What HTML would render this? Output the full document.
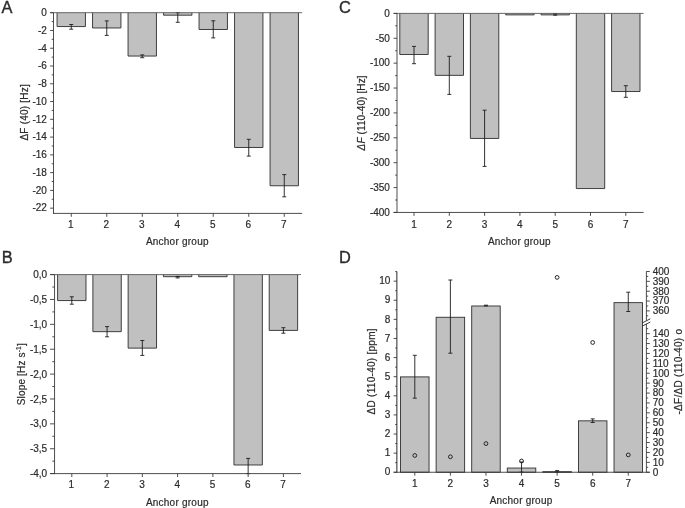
<!DOCTYPE html>
<html><head><meta charset="utf-8"><title>Figure</title>
<style>
html,body{margin:0;padding:0;background:#fff;}
body{width:685px;height:508px;overflow:hidden;}
svg{display:block;will-change:transform;}
text{font-family:"Liberation Sans",sans-serif;fill:#2b2b2b;stroke:#2b2b2b;stroke-width:0.2px;}
</style></head><body>
<svg width="685" height="508" viewBox="0 0 685 508">
<rect x="0" y="0" width="685" height="508" fill="#ffffff"/>
<rect x="57.05" y="12.70" width="28.40" height="13.86" fill="#c0c0c0"/>
<path d="M57.05 12.70V26.56H85.45V12.70" fill="none" stroke="#2e2e2e" stroke-width="0.9"/>
<rect x="92.55" y="12.70" width="28.40" height="15.28" fill="#c0c0c0"/>
<path d="M92.55 12.70V27.98H120.95V12.70" fill="none" stroke="#2e2e2e" stroke-width="0.9"/>
<rect x="128.05" y="12.70" width="28.40" height="43.36" fill="#c0c0c0"/>
<path d="M128.05 12.70V56.06H156.45V12.70" fill="none" stroke="#2e2e2e" stroke-width="0.9"/>
<rect x="163.55" y="12.70" width="28.40" height="2.49" fill="#c0c0c0"/>
<path d="M163.55 12.70V15.19H191.95V12.70" fill="none" stroke="#2e2e2e" stroke-width="0.9"/>
<rect x="199.05" y="12.70" width="28.40" height="16.79" fill="#c0c0c0"/>
<path d="M199.05 12.70V29.49H227.45V12.70" fill="none" stroke="#2e2e2e" stroke-width="0.9"/>
<rect x="234.55" y="12.70" width="28.40" height="134.79" fill="#c0c0c0"/>
<path d="M234.55 12.70V147.49H262.95V12.70" fill="none" stroke="#2e2e2e" stroke-width="0.9"/>
<rect x="270.05" y="12.70" width="28.40" height="173.08" fill="#c0c0c0"/>
<path d="M270.05 12.70V185.78H298.45V12.70" fill="none" stroke="#2e2e2e" stroke-width="0.9"/>
<line x1="71.25" y1="24.50" x2="71.25" y2="29.20" stroke="#1c1c1c" stroke-width="0.9"/>
<line x1="69.25" y1="24.50" x2="73.25" y2="24.50" stroke="#1c1c1c" stroke-width="0.9"/>
<line x1="69.25" y1="29.20" x2="73.25" y2="29.20" stroke="#1c1c1c" stroke-width="0.9"/>
<line x1="106.75" y1="20.90" x2="106.75" y2="35.40" stroke="#1c1c1c" stroke-width="0.9"/>
<line x1="104.75" y1="20.90" x2="108.75" y2="20.90" stroke="#1c1c1c" stroke-width="0.9"/>
<line x1="104.75" y1="35.40" x2="108.75" y2="35.40" stroke="#1c1c1c" stroke-width="0.9"/>
<line x1="142.25" y1="54.90" x2="142.25" y2="57.70" stroke="#1c1c1c" stroke-width="0.9"/>
<line x1="140.25" y1="54.90" x2="144.25" y2="54.90" stroke="#1c1c1c" stroke-width="0.9"/>
<line x1="140.25" y1="57.70" x2="144.25" y2="57.70" stroke="#1c1c1c" stroke-width="0.9"/>
<line x1="177.75" y1="12.70" x2="177.75" y2="22.30" stroke="#1c1c1c" stroke-width="0.9"/>
<line x1="175.75" y1="12.70" x2="179.75" y2="12.70" stroke="#1c1c1c" stroke-width="0.9"/>
<line x1="175.75" y1="22.30" x2="179.75" y2="22.30" stroke="#1c1c1c" stroke-width="0.9"/>
<line x1="213.25" y1="20.80" x2="213.25" y2="37.90" stroke="#1c1c1c" stroke-width="0.9"/>
<line x1="211.25" y1="20.80" x2="215.25" y2="20.80" stroke="#1c1c1c" stroke-width="0.9"/>
<line x1="211.25" y1="37.90" x2="215.25" y2="37.90" stroke="#1c1c1c" stroke-width="0.9"/>
<line x1="248.75" y1="139.30" x2="248.75" y2="156.10" stroke="#1c1c1c" stroke-width="0.9"/>
<line x1="246.75" y1="139.30" x2="250.75" y2="139.30" stroke="#1c1c1c" stroke-width="0.9"/>
<line x1="246.75" y1="156.10" x2="250.75" y2="156.10" stroke="#1c1c1c" stroke-width="0.9"/>
<line x1="284.25" y1="174.60" x2="284.25" y2="196.80" stroke="#1c1c1c" stroke-width="0.9"/>
<line x1="282.25" y1="174.60" x2="286.25" y2="174.60" stroke="#1c1c1c" stroke-width="0.9"/>
<line x1="282.25" y1="196.80" x2="286.25" y2="196.80" stroke="#1c1c1c" stroke-width="0.9"/>
<line x1="50.10" y1="12.70" x2="302.10" y2="12.70" stroke="#585858" stroke-width="0.9"/>
<line x1="53.50" y1="12.70" x2="53.50" y2="213.85" stroke="#3a3a3a" stroke-width="0.9"/>
<line x1="53.05" y1="213.40" x2="302.10" y2="213.40" stroke="#3a3a3a" stroke-width="0.9"/>
<line x1="50.10" y1="12.70" x2="53.50" y2="12.70" stroke="#3a3a3a" stroke-width="0.9"/>
<line x1="50.10" y1="30.47" x2="53.50" y2="30.47" stroke="#3a3a3a" stroke-width="0.9"/>
<line x1="50.10" y1="48.24" x2="53.50" y2="48.24" stroke="#3a3a3a" stroke-width="0.9"/>
<line x1="50.10" y1="66.01" x2="53.50" y2="66.01" stroke="#3a3a3a" stroke-width="0.9"/>
<line x1="50.10" y1="83.78" x2="53.50" y2="83.78" stroke="#3a3a3a" stroke-width="0.9"/>
<line x1="50.10" y1="101.55" x2="53.50" y2="101.55" stroke="#3a3a3a" stroke-width="0.9"/>
<line x1="50.10" y1="119.32" x2="53.50" y2="119.32" stroke="#3a3a3a" stroke-width="0.9"/>
<line x1="50.10" y1="137.09" x2="53.50" y2="137.09" stroke="#3a3a3a" stroke-width="0.9"/>
<line x1="50.10" y1="154.86" x2="53.50" y2="154.86" stroke="#3a3a3a" stroke-width="0.9"/>
<line x1="50.10" y1="172.63" x2="53.50" y2="172.63" stroke="#3a3a3a" stroke-width="0.9"/>
<line x1="50.10" y1="190.40" x2="53.50" y2="190.40" stroke="#3a3a3a" stroke-width="0.9"/>
<line x1="50.10" y1="208.17" x2="53.50" y2="208.17" stroke="#3a3a3a" stroke-width="0.9"/>
<line x1="51.70" y1="21.59" x2="53.50" y2="21.59" stroke="#3a3a3a" stroke-width="0.9"/>
<line x1="51.70" y1="39.35" x2="53.50" y2="39.35" stroke="#3a3a3a" stroke-width="0.9"/>
<line x1="51.70" y1="57.12" x2="53.50" y2="57.12" stroke="#3a3a3a" stroke-width="0.9"/>
<line x1="51.70" y1="74.89" x2="53.50" y2="74.89" stroke="#3a3a3a" stroke-width="0.9"/>
<line x1="51.70" y1="92.67" x2="53.50" y2="92.67" stroke="#3a3a3a" stroke-width="0.9"/>
<line x1="51.70" y1="110.44" x2="53.50" y2="110.44" stroke="#3a3a3a" stroke-width="0.9"/>
<line x1="51.70" y1="128.21" x2="53.50" y2="128.21" stroke="#3a3a3a" stroke-width="0.9"/>
<line x1="51.70" y1="145.97" x2="53.50" y2="145.97" stroke="#3a3a3a" stroke-width="0.9"/>
<line x1="51.70" y1="163.75" x2="53.50" y2="163.75" stroke="#3a3a3a" stroke-width="0.9"/>
<line x1="51.70" y1="181.51" x2="53.50" y2="181.51" stroke="#3a3a3a" stroke-width="0.9"/>
<line x1="51.70" y1="199.28" x2="53.50" y2="199.28" stroke="#3a3a3a" stroke-width="0.9"/>
<text x="46.90" y="16.00" font-size="10" text-anchor="end">0</text>
<text x="46.90" y="33.77" font-size="10" text-anchor="end">-2</text>
<text x="46.90" y="51.54" font-size="10" text-anchor="end">-4</text>
<text x="46.90" y="69.31" font-size="10" text-anchor="end">-6</text>
<text x="46.90" y="87.08" font-size="10" text-anchor="end">-8</text>
<text x="46.90" y="104.85" font-size="10" text-anchor="end">-10</text>
<text x="46.90" y="122.62" font-size="10" text-anchor="end">-12</text>
<text x="46.90" y="140.39" font-size="10" text-anchor="end">-14</text>
<text x="46.90" y="158.16" font-size="10" text-anchor="end">-16</text>
<text x="46.90" y="175.93" font-size="10" text-anchor="end">-18</text>
<text x="46.90" y="193.70" font-size="10" text-anchor="end">-20</text>
<text x="46.90" y="211.47" font-size="10" text-anchor="end">-22</text>
<line x1="71.25" y1="213.40" x2="71.25" y2="216.80" stroke="#3a3a3a" stroke-width="0.9"/>
<text x="70.85" y="228.15" font-size="10" text-anchor="middle">1</text>
<line x1="106.75" y1="213.40" x2="106.75" y2="216.80" stroke="#3a3a3a" stroke-width="0.9"/>
<text x="106.35" y="228.15" font-size="10" text-anchor="middle">2</text>
<line x1="142.25" y1="213.40" x2="142.25" y2="216.80" stroke="#3a3a3a" stroke-width="0.9"/>
<text x="141.85" y="228.15" font-size="10" text-anchor="middle">3</text>
<line x1="177.75" y1="213.40" x2="177.75" y2="216.80" stroke="#3a3a3a" stroke-width="0.9"/>
<text x="177.35" y="228.15" font-size="10" text-anchor="middle">4</text>
<line x1="213.25" y1="213.40" x2="213.25" y2="216.80" stroke="#3a3a3a" stroke-width="0.9"/>
<text x="212.85" y="228.15" font-size="10" text-anchor="middle">5</text>
<line x1="248.75" y1="213.40" x2="248.75" y2="216.80" stroke="#3a3a3a" stroke-width="0.9"/>
<text x="248.35" y="228.15" font-size="10" text-anchor="middle">6</text>
<line x1="284.25" y1="213.40" x2="284.25" y2="216.80" stroke="#3a3a3a" stroke-width="0.9"/>
<text x="283.85" y="228.15" font-size="10" text-anchor="middle">7</text>
<text x="177.20" y="245.20" font-size="10" text-anchor="middle" textLength="62.6">Anchor group</text>
<text x="1.50" y="13.20" font-size="16.4" text-anchor="start" style="stroke-width:0.35px">A</text>
<text x="27.80" y="112.40" font-size="10" text-anchor="middle" transform="rotate(-90 27.80 112.40)" textLength="56.3">&#916;F (40) [Hz]</text>
<rect x="399.80" y="13.40" width="28.40" height="41.10" fill="#c0c0c0"/>
<path d="M399.80 13.40V54.50H428.20V13.40" fill="none" stroke="#2e2e2e" stroke-width="0.9"/>
<rect x="435.10" y="13.40" width="28.40" height="61.95" fill="#c0c0c0"/>
<path d="M435.10 13.40V75.35H463.50V13.40" fill="none" stroke="#2e2e2e" stroke-width="0.9"/>
<rect x="470.40" y="13.40" width="28.40" height="125.05" fill="#c0c0c0"/>
<path d="M470.40 13.40V138.45H498.80V13.40" fill="none" stroke="#2e2e2e" stroke-width="0.9"/>
<rect x="505.70" y="13.40" width="28.40" height="1.49" fill="#c0c0c0"/>
<path d="M505.70 13.40V14.89H534.10V13.40" fill="none" stroke="#2e2e2e" stroke-width="0.9"/>
<rect x="541.00" y="13.40" width="28.40" height="1.49" fill="#c0c0c0"/>
<path d="M541.00 13.40V14.89H569.40V13.40" fill="none" stroke="#2e2e2e" stroke-width="0.9"/>
<rect x="576.30" y="13.40" width="28.40" height="175.16" fill="#c0c0c0"/>
<path d="M576.30 13.40V188.56H604.70V13.40" fill="none" stroke="#2e2e2e" stroke-width="0.9"/>
<rect x="611.60" y="13.40" width="28.40" height="78.13" fill="#c0c0c0"/>
<path d="M611.60 13.40V91.53H640.00V13.40" fill="none" stroke="#2e2e2e" stroke-width="0.9"/>
<line x1="414.00" y1="46.40" x2="414.00" y2="63.70" stroke="#1c1c1c" stroke-width="0.9"/>
<line x1="412.00" y1="46.40" x2="416.00" y2="46.40" stroke="#1c1c1c" stroke-width="0.9"/>
<line x1="412.00" y1="63.70" x2="416.00" y2="63.70" stroke="#1c1c1c" stroke-width="0.9"/>
<line x1="449.30" y1="56.30" x2="449.30" y2="94.40" stroke="#1c1c1c" stroke-width="0.9"/>
<line x1="447.30" y1="56.30" x2="451.30" y2="56.30" stroke="#1c1c1c" stroke-width="0.9"/>
<line x1="447.30" y1="94.40" x2="451.30" y2="94.40" stroke="#1c1c1c" stroke-width="0.9"/>
<line x1="484.60" y1="110.20" x2="484.60" y2="166.40" stroke="#1c1c1c" stroke-width="0.9"/>
<line x1="482.60" y1="110.20" x2="486.60" y2="110.20" stroke="#1c1c1c" stroke-width="0.9"/>
<line x1="482.60" y1="166.40" x2="486.60" y2="166.40" stroke="#1c1c1c" stroke-width="0.9"/>
<line x1="555.20" y1="13.60" x2="555.20" y2="15.20" stroke="#1c1c1c" stroke-width="0.9"/>
<line x1="553.20" y1="13.60" x2="557.20" y2="13.60" stroke="#1c1c1c" stroke-width="0.9"/>
<line x1="553.20" y1="15.20" x2="557.20" y2="15.20" stroke="#1c1c1c" stroke-width="0.9"/>
<line x1="625.80" y1="85.70" x2="625.80" y2="97.30" stroke="#1c1c1c" stroke-width="0.9"/>
<line x1="623.80" y1="85.70" x2="627.80" y2="85.70" stroke="#1c1c1c" stroke-width="0.9"/>
<line x1="623.80" y1="97.30" x2="627.80" y2="97.30" stroke="#1c1c1c" stroke-width="0.9"/>
<line x1="393.60" y1="13.40" x2="643.60" y2="13.40" stroke="#585858" stroke-width="0.9"/>
<line x1="397.00" y1="13.40" x2="397.00" y2="212.90" stroke="#3a3a3a" stroke-width="0.9"/>
<line x1="393.60" y1="212.45" x2="643.60" y2="212.45" stroke="#3a3a3a" stroke-width="0.9"/>
<line x1="393.60" y1="13.40" x2="397.00" y2="13.40" stroke="#3a3a3a" stroke-width="0.9"/>
<line x1="393.60" y1="38.28" x2="397.00" y2="38.28" stroke="#3a3a3a" stroke-width="0.9"/>
<line x1="393.60" y1="63.16" x2="397.00" y2="63.16" stroke="#3a3a3a" stroke-width="0.9"/>
<line x1="393.60" y1="88.04" x2="397.00" y2="88.04" stroke="#3a3a3a" stroke-width="0.9"/>
<line x1="393.60" y1="112.92" x2="397.00" y2="112.92" stroke="#3a3a3a" stroke-width="0.9"/>
<line x1="393.60" y1="137.81" x2="397.00" y2="137.81" stroke="#3a3a3a" stroke-width="0.9"/>
<line x1="393.60" y1="162.69" x2="397.00" y2="162.69" stroke="#3a3a3a" stroke-width="0.9"/>
<line x1="393.60" y1="187.57" x2="397.00" y2="187.57" stroke="#3a3a3a" stroke-width="0.9"/>
<line x1="393.60" y1="212.45" x2="397.00" y2="212.45" stroke="#3a3a3a" stroke-width="0.9"/>
<line x1="395.20" y1="25.84" x2="397.00" y2="25.84" stroke="#3a3a3a" stroke-width="0.9"/>
<line x1="395.20" y1="50.72" x2="397.00" y2="50.72" stroke="#3a3a3a" stroke-width="0.9"/>
<line x1="395.20" y1="75.60" x2="397.00" y2="75.60" stroke="#3a3a3a" stroke-width="0.9"/>
<line x1="395.20" y1="100.48" x2="397.00" y2="100.48" stroke="#3a3a3a" stroke-width="0.9"/>
<line x1="395.20" y1="125.37" x2="397.00" y2="125.37" stroke="#3a3a3a" stroke-width="0.9"/>
<line x1="395.20" y1="150.25" x2="397.00" y2="150.25" stroke="#3a3a3a" stroke-width="0.9"/>
<line x1="395.20" y1="175.13" x2="397.00" y2="175.13" stroke="#3a3a3a" stroke-width="0.9"/>
<line x1="395.20" y1="200.01" x2="397.00" y2="200.01" stroke="#3a3a3a" stroke-width="0.9"/>
<text x="389.90" y="16.70" font-size="10" text-anchor="end">0</text>
<text x="389.90" y="41.58" font-size="10" text-anchor="end">-50</text>
<text x="389.90" y="66.46" font-size="10" text-anchor="end">-100</text>
<text x="389.90" y="91.34" font-size="10" text-anchor="end">-150</text>
<text x="389.90" y="116.22" font-size="10" text-anchor="end">-200</text>
<text x="389.90" y="141.11" font-size="10" text-anchor="end">-250</text>
<text x="389.90" y="165.99" font-size="10" text-anchor="end">-300</text>
<text x="389.90" y="190.87" font-size="10" text-anchor="end">-350</text>
<text x="389.90" y="215.75" font-size="10" text-anchor="end">-400</text>
<line x1="414.00" y1="212.45" x2="414.00" y2="215.85" stroke="#3a3a3a" stroke-width="0.9"/>
<text x="414.00" y="227.70" font-size="10" text-anchor="middle">1</text>
<line x1="449.30" y1="212.45" x2="449.30" y2="215.85" stroke="#3a3a3a" stroke-width="0.9"/>
<text x="449.30" y="227.70" font-size="10" text-anchor="middle">2</text>
<line x1="484.60" y1="212.45" x2="484.60" y2="215.85" stroke="#3a3a3a" stroke-width="0.9"/>
<text x="484.60" y="227.70" font-size="10" text-anchor="middle">3</text>
<line x1="519.90" y1="212.45" x2="519.90" y2="215.85" stroke="#3a3a3a" stroke-width="0.9"/>
<text x="519.90" y="227.70" font-size="10" text-anchor="middle">4</text>
<line x1="555.20" y1="212.45" x2="555.20" y2="215.85" stroke="#3a3a3a" stroke-width="0.9"/>
<text x="555.20" y="227.70" font-size="10" text-anchor="middle">5</text>
<line x1="590.50" y1="212.45" x2="590.50" y2="215.85" stroke="#3a3a3a" stroke-width="0.9"/>
<text x="590.50" y="227.70" font-size="10" text-anchor="middle">6</text>
<line x1="625.80" y1="212.45" x2="625.80" y2="215.85" stroke="#3a3a3a" stroke-width="0.9"/>
<text x="625.80" y="227.70" font-size="10" text-anchor="middle">7</text>
<text x="519.20" y="244.60" font-size="10" text-anchor="middle" textLength="62.6">Anchor group</text>
<text x="338.95" y="13.00" font-size="16.4" text-anchor="start" style="stroke-width:0.35px">C</text>
<text x="365.20" y="112.90" font-size="10" text-anchor="middle" transform="rotate(-90 365.20 112.90)" textLength="75"><tspan font-style="italic">&#916;F</tspan> (110-40) [Hz]</text>
<rect x="57.60" y="274.60" width="28.40" height="25.97" fill="#c0c0c0"/>
<path d="M57.60 274.60V300.57H86.00V274.60" fill="none" stroke="#2e2e2e" stroke-width="0.9"/>
<rect x="92.87" y="274.60" width="28.40" height="57.06" fill="#c0c0c0"/>
<path d="M92.87 274.60V331.66H121.27V274.60" fill="none" stroke="#2e2e2e" stroke-width="0.9"/>
<rect x="128.14" y="274.60" width="28.40" height="73.53" fill="#c0c0c0"/>
<path d="M128.14 274.60V348.13H156.54V274.60" fill="none" stroke="#2e2e2e" stroke-width="0.9"/>
<rect x="163.41" y="274.60" width="28.40" height="2.09" fill="#c0c0c0"/>
<path d="M163.41 274.60V276.69H191.81V274.60" fill="none" stroke="#2e2e2e" stroke-width="0.9"/>
<rect x="198.68" y="274.60" width="28.40" height="2.09" fill="#c0c0c0"/>
<path d="M198.68 274.60V276.69H227.08V274.60" fill="none" stroke="#2e2e2e" stroke-width="0.9"/>
<rect x="233.95" y="274.60" width="28.40" height="190.39" fill="#c0c0c0"/>
<path d="M233.95 274.60V464.99H262.35V274.60" fill="none" stroke="#2e2e2e" stroke-width="0.9"/>
<rect x="269.22" y="274.60" width="28.40" height="55.82" fill="#c0c0c0"/>
<path d="M269.22 274.60V330.42H297.62V274.60" fill="none" stroke="#2e2e2e" stroke-width="0.9"/>
<line x1="71.80" y1="296.80" x2="71.80" y2="304.20" stroke="#1c1c1c" stroke-width="0.9"/>
<line x1="69.80" y1="296.80" x2="73.80" y2="296.80" stroke="#1c1c1c" stroke-width="0.9"/>
<line x1="69.80" y1="304.20" x2="73.80" y2="304.20" stroke="#1c1c1c" stroke-width="0.9"/>
<line x1="107.07" y1="326.60" x2="107.07" y2="336.80" stroke="#1c1c1c" stroke-width="0.9"/>
<line x1="105.07" y1="326.60" x2="109.07" y2="326.60" stroke="#1c1c1c" stroke-width="0.9"/>
<line x1="105.07" y1="336.80" x2="109.07" y2="336.80" stroke="#1c1c1c" stroke-width="0.9"/>
<line x1="142.34" y1="340.50" x2="142.34" y2="355.40" stroke="#1c1c1c" stroke-width="0.9"/>
<line x1="140.34" y1="340.50" x2="144.34" y2="340.50" stroke="#1c1c1c" stroke-width="0.9"/>
<line x1="140.34" y1="355.40" x2="144.34" y2="355.40" stroke="#1c1c1c" stroke-width="0.9"/>
<line x1="177.61" y1="276.40" x2="177.61" y2="277.90" stroke="#1c1c1c" stroke-width="0.9"/>
<line x1="175.61" y1="276.40" x2="179.61" y2="276.40" stroke="#1c1c1c" stroke-width="0.9"/>
<line x1="175.61" y1="277.90" x2="179.61" y2="277.90" stroke="#1c1c1c" stroke-width="0.9"/>
<line x1="248.15" y1="458.40" x2="248.15" y2="473.60" stroke="#1c1c1c" stroke-width="0.9"/>
<line x1="246.15" y1="458.40" x2="250.15" y2="458.40" stroke="#1c1c1c" stroke-width="0.9"/>
<line x1="246.15" y1="473.60" x2="250.15" y2="473.60" stroke="#1c1c1c" stroke-width="0.9"/>
<line x1="283.42" y1="327.70" x2="283.42" y2="333.20" stroke="#1c1c1c" stroke-width="0.9"/>
<line x1="281.42" y1="327.70" x2="285.42" y2="327.70" stroke="#1c1c1c" stroke-width="0.9"/>
<line x1="281.42" y1="333.20" x2="285.42" y2="333.20" stroke="#1c1c1c" stroke-width="0.9"/>
<line x1="50.05" y1="274.60" x2="301.00" y2="274.60" stroke="#585858" stroke-width="0.9"/>
<line x1="54.55" y1="274.60" x2="54.55" y2="474.05" stroke="#3a3a3a" stroke-width="0.9"/>
<line x1="50.05" y1="473.60" x2="301.00" y2="473.60" stroke="#3a3a3a" stroke-width="0.9"/>
<line x1="50.05" y1="274.60" x2="54.55" y2="274.60" stroke="#3a3a3a" stroke-width="0.9"/>
<line x1="50.05" y1="299.48" x2="54.55" y2="299.48" stroke="#3a3a3a" stroke-width="0.9"/>
<line x1="50.05" y1="324.35" x2="54.55" y2="324.35" stroke="#3a3a3a" stroke-width="0.9"/>
<line x1="50.05" y1="349.23" x2="54.55" y2="349.23" stroke="#3a3a3a" stroke-width="0.9"/>
<line x1="50.05" y1="374.10" x2="54.55" y2="374.10" stroke="#3a3a3a" stroke-width="0.9"/>
<line x1="50.05" y1="398.98" x2="54.55" y2="398.98" stroke="#3a3a3a" stroke-width="0.9"/>
<line x1="50.05" y1="423.85" x2="54.55" y2="423.85" stroke="#3a3a3a" stroke-width="0.9"/>
<line x1="50.05" y1="448.73" x2="54.55" y2="448.73" stroke="#3a3a3a" stroke-width="0.9"/>
<line x1="50.05" y1="473.60" x2="54.55" y2="473.60" stroke="#3a3a3a" stroke-width="0.9"/>
<line x1="52.35" y1="287.04" x2="54.55" y2="287.04" stroke="#3a3a3a" stroke-width="0.9"/>
<line x1="52.35" y1="311.91" x2="54.55" y2="311.91" stroke="#3a3a3a" stroke-width="0.9"/>
<line x1="52.35" y1="336.79" x2="54.55" y2="336.79" stroke="#3a3a3a" stroke-width="0.9"/>
<line x1="52.35" y1="361.66" x2="54.55" y2="361.66" stroke="#3a3a3a" stroke-width="0.9"/>
<line x1="52.35" y1="386.54" x2="54.55" y2="386.54" stroke="#3a3a3a" stroke-width="0.9"/>
<line x1="52.35" y1="411.41" x2="54.55" y2="411.41" stroke="#3a3a3a" stroke-width="0.9"/>
<line x1="52.35" y1="436.29" x2="54.55" y2="436.29" stroke="#3a3a3a" stroke-width="0.9"/>
<line x1="52.35" y1="461.16" x2="54.55" y2="461.16" stroke="#3a3a3a" stroke-width="0.9"/>
<text x="47.15" y="278.20" font-size="10" text-anchor="end">0,0</text>
<text x="47.15" y="303.08" font-size="10" text-anchor="end">-0,5</text>
<text x="47.15" y="327.95" font-size="10" text-anchor="end">-1,0</text>
<text x="47.15" y="352.83" font-size="10" text-anchor="end">-1,5</text>
<text x="47.15" y="377.70" font-size="10" text-anchor="end">-2,0</text>
<text x="47.15" y="402.58" font-size="10" text-anchor="end">-2,5</text>
<text x="47.15" y="427.45" font-size="10" text-anchor="end">-3,0</text>
<text x="47.15" y="452.33" font-size="10" text-anchor="end">-3,5</text>
<text x="47.15" y="477.20" font-size="10" text-anchor="end">-4,0</text>
<line x1="71.80" y1="473.60" x2="71.80" y2="477.00" stroke="#3a3a3a" stroke-width="0.9"/>
<text x="71.40" y="488.35" font-size="10" text-anchor="middle">1</text>
<line x1="107.07" y1="473.60" x2="107.07" y2="477.00" stroke="#3a3a3a" stroke-width="0.9"/>
<text x="106.67" y="488.35" font-size="10" text-anchor="middle">2</text>
<line x1="142.34" y1="473.60" x2="142.34" y2="477.00" stroke="#3a3a3a" stroke-width="0.9"/>
<text x="141.94" y="488.35" font-size="10" text-anchor="middle">3</text>
<line x1="177.61" y1="473.60" x2="177.61" y2="477.00" stroke="#3a3a3a" stroke-width="0.9"/>
<text x="177.21" y="488.35" font-size="10" text-anchor="middle">4</text>
<line x1="212.88" y1="473.60" x2="212.88" y2="477.00" stroke="#3a3a3a" stroke-width="0.9"/>
<text x="212.48" y="488.35" font-size="10" text-anchor="middle">5</text>
<line x1="248.15" y1="473.60" x2="248.15" y2="477.00" stroke="#3a3a3a" stroke-width="0.9"/>
<text x="247.75" y="488.35" font-size="10" text-anchor="middle">6</text>
<line x1="283.42" y1="473.60" x2="283.42" y2="477.00" stroke="#3a3a3a" stroke-width="0.9"/>
<text x="283.02" y="488.35" font-size="10" text-anchor="middle">7</text>
<text x="177.18" y="505.70" font-size="10" text-anchor="middle" textLength="62.6">Anchor group</text>
<text x="1.75" y="263.10" font-size="16.4" text-anchor="start" style="stroke-width:0.35px">B</text>
<text x="25.40" y="374.30" font-size="10" text-anchor="middle" transform="rotate(-90 25.40 374.30)" textLength="62">Slope [Hz s<tspan font-size="6.5" dy="-4.4">-1</tspan><tspan dy="4.4">]</tspan></text>
<rect x="400.55" y="376.89" width="28.50" height="95.36" fill="#c0c0c0" stroke="#2e2e2e" stroke-width="0.9"/>
<rect x="436.13" y="317.27" width="28.50" height="154.98" fill="#c0c0c0" stroke="#2e2e2e" stroke-width="0.9"/>
<rect x="471.71" y="305.99" width="28.50" height="166.26" fill="#c0c0c0" stroke="#2e2e2e" stroke-width="0.9"/>
<rect x="507.29" y="468.05" width="28.50" height="4.20" fill="#c0c0c0" stroke="#2e2e2e" stroke-width="0.9"/>
<rect x="542.87" y="471.68" width="28.50" height="0.57" fill="#c0c0c0" stroke="#2e2e2e" stroke-width="0.9"/>
<rect x="578.45" y="420.84" width="28.50" height="51.41" fill="#c0c0c0" stroke="#2e2e2e" stroke-width="0.9"/>
<rect x="614.03" y="302.65" width="28.50" height="169.60" fill="#c0c0c0" stroke="#2e2e2e" stroke-width="0.9"/>
<line x1="414.80" y1="355.30" x2="414.80" y2="398.20" stroke="#1c1c1c" stroke-width="0.9"/>
<line x1="412.80" y1="355.30" x2="416.80" y2="355.30" stroke="#1c1c1c" stroke-width="0.9"/>
<line x1="412.80" y1="398.20" x2="416.80" y2="398.20" stroke="#1c1c1c" stroke-width="0.9"/>
<line x1="450.38" y1="280.00" x2="450.38" y2="353.20" stroke="#1c1c1c" stroke-width="0.9"/>
<line x1="448.38" y1="280.00" x2="452.38" y2="280.00" stroke="#1c1c1c" stroke-width="0.9"/>
<line x1="448.38" y1="353.20" x2="452.38" y2="353.20" stroke="#1c1c1c" stroke-width="0.9"/>
<line x1="485.96" y1="305.20" x2="485.96" y2="305.90" stroke="#1c1c1c" stroke-width="0.9"/>
<line x1="483.96" y1="305.20" x2="487.96" y2="305.20" stroke="#1c1c1c" stroke-width="0.9"/>
<line x1="483.96" y1="305.90" x2="487.96" y2="305.90" stroke="#1c1c1c" stroke-width="0.9"/>
<line x1="521.54" y1="462.00" x2="521.54" y2="472.10" stroke="#1c1c1c" stroke-width="0.9"/>
<line x1="519.54" y1="462.00" x2="523.54" y2="462.00" stroke="#1c1c1c" stroke-width="0.9"/>
<line x1="519.54" y1="472.10" x2="523.54" y2="472.10" stroke="#1c1c1c" stroke-width="0.9"/>
<line x1="557.12" y1="470.60" x2="557.12" y2="472.10" stroke="#1c1c1c" stroke-width="0.9"/>
<line x1="555.12" y1="470.60" x2="559.12" y2="470.60" stroke="#1c1c1c" stroke-width="0.9"/>
<line x1="555.12" y1="472.10" x2="559.12" y2="472.10" stroke="#1c1c1c" stroke-width="0.9"/>
<line x1="592.70" y1="418.90" x2="592.70" y2="422.50" stroke="#1c1c1c" stroke-width="0.9"/>
<line x1="590.70" y1="418.90" x2="594.70" y2="418.90" stroke="#1c1c1c" stroke-width="0.9"/>
<line x1="590.70" y1="422.50" x2="594.70" y2="422.50" stroke="#1c1c1c" stroke-width="0.9"/>
<line x1="628.28" y1="292.20" x2="628.28" y2="311.50" stroke="#1c1c1c" stroke-width="0.9"/>
<line x1="626.28" y1="292.20" x2="630.28" y2="292.20" stroke="#1c1c1c" stroke-width="0.9"/>
<line x1="626.28" y1="311.50" x2="630.28" y2="311.50" stroke="#1c1c1c" stroke-width="0.9"/>
<circle cx="414.80" cy="455.50" r="1.9" fill="none" stroke="#1e1e1e" stroke-width="0.95"/>
<circle cx="450.38" cy="456.80" r="1.9" fill="none" stroke="#1e1e1e" stroke-width="0.95"/>
<circle cx="485.96" cy="443.60" r="1.9" fill="none" stroke="#1e1e1e" stroke-width="0.95"/>
<circle cx="521.54" cy="461.00" r="1.9" fill="none" stroke="#1e1e1e" stroke-width="0.95"/>
<circle cx="557.12" cy="277.40" r="1.9" fill="none" stroke="#1e1e1e" stroke-width="0.95"/>
<circle cx="592.70" cy="342.50" r="1.9" fill="none" stroke="#1e1e1e" stroke-width="0.95"/>
<circle cx="628.28" cy="454.90" r="1.9" fill="none" stroke="#1e1e1e" stroke-width="0.95"/>
<line x1="396.85" y1="271.40" x2="396.85" y2="472.70" stroke="#3a3a3a" stroke-width="1.1"/>
<line x1="393.60" y1="472.25" x2="649.80" y2="472.25" stroke="#3a3a3a" stroke-width="0.9"/>
<line x1="646.40" y1="271.40" x2="646.40" y2="320.60" stroke="#3a3a3a" stroke-width="0.9"/>
<line x1="646.40" y1="324.00" x2="646.40" y2="472.70" stroke="#3a3a3a" stroke-width="0.9"/>
<line x1="642.50" y1="322.80" x2="650.30" y2="318.80" stroke="#222" stroke-width="0.9"/>
<line x1="642.50" y1="326.00" x2="650.30" y2="322.00" stroke="#222" stroke-width="0.9"/>
<line x1="393.60" y1="472.25" x2="397.00" y2="472.25" stroke="#3a3a3a" stroke-width="0.9"/>
<text x="390.40" y="475.45" font-size="10" text-anchor="end">0</text>
<line x1="393.60" y1="453.14" x2="397.00" y2="453.14" stroke="#3a3a3a" stroke-width="0.9"/>
<text x="390.40" y="456.34" font-size="10" text-anchor="end">1</text>
<line x1="393.60" y1="434.03" x2="397.00" y2="434.03" stroke="#3a3a3a" stroke-width="0.9"/>
<text x="390.40" y="437.23" font-size="10" text-anchor="end">2</text>
<line x1="393.60" y1="414.92" x2="397.00" y2="414.92" stroke="#3a3a3a" stroke-width="0.9"/>
<text x="390.40" y="418.12" font-size="10" text-anchor="end">3</text>
<line x1="393.60" y1="395.81" x2="397.00" y2="395.81" stroke="#3a3a3a" stroke-width="0.9"/>
<text x="390.40" y="399.01" font-size="10" text-anchor="end">4</text>
<line x1="393.60" y1="376.70" x2="397.00" y2="376.70" stroke="#3a3a3a" stroke-width="0.9"/>
<text x="390.40" y="379.90" font-size="10" text-anchor="end">5</text>
<line x1="393.60" y1="357.59" x2="397.00" y2="357.59" stroke="#3a3a3a" stroke-width="0.9"/>
<text x="390.40" y="360.79" font-size="10" text-anchor="end">6</text>
<line x1="393.60" y1="338.48" x2="397.00" y2="338.48" stroke="#3a3a3a" stroke-width="0.9"/>
<text x="390.40" y="341.68" font-size="10" text-anchor="end">7</text>
<line x1="393.60" y1="319.37" x2="397.00" y2="319.37" stroke="#3a3a3a" stroke-width="0.9"/>
<text x="390.40" y="322.57" font-size="10" text-anchor="end">8</text>
<line x1="393.60" y1="300.26" x2="397.00" y2="300.26" stroke="#3a3a3a" stroke-width="0.9"/>
<text x="390.40" y="303.46" font-size="10" text-anchor="end">9</text>
<line x1="393.60" y1="281.15" x2="397.00" y2="281.15" stroke="#3a3a3a" stroke-width="0.9"/>
<text x="390.40" y="284.35" font-size="10" text-anchor="end">10</text>
<line x1="395.20" y1="462.69" x2="397.00" y2="462.69" stroke="#3a3a3a" stroke-width="0.9"/>
<line x1="395.20" y1="443.58" x2="397.00" y2="443.58" stroke="#3a3a3a" stroke-width="0.9"/>
<line x1="395.20" y1="424.48" x2="397.00" y2="424.48" stroke="#3a3a3a" stroke-width="0.9"/>
<line x1="395.20" y1="405.37" x2="397.00" y2="405.37" stroke="#3a3a3a" stroke-width="0.9"/>
<line x1="395.20" y1="386.25" x2="397.00" y2="386.25" stroke="#3a3a3a" stroke-width="0.9"/>
<line x1="395.20" y1="367.14" x2="397.00" y2="367.14" stroke="#3a3a3a" stroke-width="0.9"/>
<line x1="395.20" y1="348.03" x2="397.00" y2="348.03" stroke="#3a3a3a" stroke-width="0.9"/>
<line x1="395.20" y1="328.93" x2="397.00" y2="328.93" stroke="#3a3a3a" stroke-width="0.9"/>
<line x1="395.20" y1="309.81" x2="397.00" y2="309.81" stroke="#3a3a3a" stroke-width="0.9"/>
<line x1="395.20" y1="290.71" x2="397.00" y2="290.71" stroke="#3a3a3a" stroke-width="0.9"/>
<line x1="395.20" y1="271.60" x2="397.00" y2="271.60" stroke="#3a3a3a" stroke-width="0.9"/>
<line x1="646.40" y1="472.25" x2="649.80" y2="472.25" stroke="#3a3a3a" stroke-width="0.9"/>
<text x="652.70" y="475.65" font-size="10" text-anchor="start">0</text>
<line x1="646.40" y1="462.35" x2="649.80" y2="462.35" stroke="#3a3a3a" stroke-width="0.9"/>
<text x="652.70" y="465.75" font-size="10" text-anchor="start">10</text>
<line x1="646.40" y1="452.45" x2="649.80" y2="452.45" stroke="#3a3a3a" stroke-width="0.9"/>
<text x="652.70" y="455.85" font-size="10" text-anchor="start">20</text>
<line x1="646.40" y1="442.55" x2="649.80" y2="442.55" stroke="#3a3a3a" stroke-width="0.9"/>
<text x="652.70" y="445.95" font-size="10" text-anchor="start">30</text>
<line x1="646.40" y1="432.65" x2="649.80" y2="432.65" stroke="#3a3a3a" stroke-width="0.9"/>
<text x="652.70" y="436.05" font-size="10" text-anchor="start">40</text>
<line x1="646.40" y1="422.75" x2="649.80" y2="422.75" stroke="#3a3a3a" stroke-width="0.9"/>
<text x="652.70" y="426.15" font-size="10" text-anchor="start">50</text>
<line x1="646.40" y1="412.85" x2="649.80" y2="412.85" stroke="#3a3a3a" stroke-width="0.9"/>
<text x="652.70" y="416.25" font-size="10" text-anchor="start">60</text>
<line x1="646.40" y1="402.95" x2="649.80" y2="402.95" stroke="#3a3a3a" stroke-width="0.9"/>
<text x="652.70" y="406.35" font-size="10" text-anchor="start">70</text>
<line x1="646.40" y1="393.05" x2="649.80" y2="393.05" stroke="#3a3a3a" stroke-width="0.9"/>
<text x="652.70" y="396.45" font-size="10" text-anchor="start">80</text>
<line x1="646.40" y1="383.15" x2="649.80" y2="383.15" stroke="#3a3a3a" stroke-width="0.9"/>
<text x="652.70" y="386.55" font-size="10" text-anchor="start">90</text>
<line x1="646.40" y1="373.25" x2="649.80" y2="373.25" stroke="#3a3a3a" stroke-width="0.9"/>
<text x="652.70" y="376.65" font-size="10" text-anchor="start">100</text>
<line x1="646.40" y1="363.35" x2="649.80" y2="363.35" stroke="#3a3a3a" stroke-width="0.9"/>
<text x="652.70" y="366.75" font-size="10" text-anchor="start">110</text>
<line x1="646.40" y1="353.45" x2="649.80" y2="353.45" stroke="#3a3a3a" stroke-width="0.9"/>
<text x="652.70" y="356.85" font-size="10" text-anchor="start">120</text>
<line x1="646.40" y1="343.55" x2="649.80" y2="343.55" stroke="#3a3a3a" stroke-width="0.9"/>
<text x="652.70" y="346.95" font-size="10" text-anchor="start">130</text>
<line x1="646.40" y1="333.65" x2="649.80" y2="333.65" stroke="#3a3a3a" stroke-width="0.9"/>
<text x="652.70" y="337.05" font-size="10" text-anchor="start">140</text>
<line x1="646.40" y1="467.30" x2="648.20" y2="467.30" stroke="#3a3a3a" stroke-width="0.9"/>
<line x1="646.40" y1="457.40" x2="648.20" y2="457.40" stroke="#3a3a3a" stroke-width="0.9"/>
<line x1="646.40" y1="447.50" x2="648.20" y2="447.50" stroke="#3a3a3a" stroke-width="0.9"/>
<line x1="646.40" y1="437.60" x2="648.20" y2="437.60" stroke="#3a3a3a" stroke-width="0.9"/>
<line x1="646.40" y1="427.70" x2="648.20" y2="427.70" stroke="#3a3a3a" stroke-width="0.9"/>
<line x1="646.40" y1="417.80" x2="648.20" y2="417.80" stroke="#3a3a3a" stroke-width="0.9"/>
<line x1="646.40" y1="407.90" x2="648.20" y2="407.90" stroke="#3a3a3a" stroke-width="0.9"/>
<line x1="646.40" y1="398.00" x2="648.20" y2="398.00" stroke="#3a3a3a" stroke-width="0.9"/>
<line x1="646.40" y1="388.10" x2="648.20" y2="388.10" stroke="#3a3a3a" stroke-width="0.9"/>
<line x1="646.40" y1="378.20" x2="648.20" y2="378.20" stroke="#3a3a3a" stroke-width="0.9"/>
<line x1="646.40" y1="368.30" x2="648.20" y2="368.30" stroke="#3a3a3a" stroke-width="0.9"/>
<line x1="646.40" y1="358.40" x2="648.20" y2="358.40" stroke="#3a3a3a" stroke-width="0.9"/>
<line x1="646.40" y1="348.50" x2="648.20" y2="348.50" stroke="#3a3a3a" stroke-width="0.9"/>
<line x1="646.40" y1="338.60" x2="648.20" y2="338.60" stroke="#3a3a3a" stroke-width="0.9"/>
<line x1="646.40" y1="328.70" x2="648.20" y2="328.70" stroke="#3a3a3a" stroke-width="0.9"/>
<line x1="646.40" y1="310.90" x2="649.80" y2="310.90" stroke="#3a3a3a" stroke-width="0.9"/>
<text x="652.70" y="314.30" font-size="10" text-anchor="start">360</text>
<line x1="646.40" y1="301.05" x2="649.80" y2="301.05" stroke="#3a3a3a" stroke-width="0.9"/>
<text x="652.70" y="304.45" font-size="10" text-anchor="start">370</text>
<line x1="646.40" y1="291.20" x2="649.80" y2="291.20" stroke="#3a3a3a" stroke-width="0.9"/>
<text x="652.70" y="294.60" font-size="10" text-anchor="start">380</text>
<line x1="646.40" y1="281.35" x2="649.80" y2="281.35" stroke="#3a3a3a" stroke-width="0.9"/>
<text x="652.70" y="284.75" font-size="10" text-anchor="start">390</text>
<line x1="646.40" y1="271.50" x2="649.80" y2="271.50" stroke="#3a3a3a" stroke-width="0.9"/>
<text x="652.70" y="274.90" font-size="10" text-anchor="start">400</text>
<line x1="646.40" y1="315.82" x2="648.20" y2="315.82" stroke="#3a3a3a" stroke-width="0.9"/>
<line x1="646.40" y1="305.97" x2="648.20" y2="305.97" stroke="#3a3a3a" stroke-width="0.9"/>
<line x1="646.40" y1="296.12" x2="648.20" y2="296.12" stroke="#3a3a3a" stroke-width="0.9"/>
<line x1="646.40" y1="286.27" x2="648.20" y2="286.27" stroke="#3a3a3a" stroke-width="0.9"/>
<line x1="646.40" y1="276.42" x2="648.20" y2="276.42" stroke="#3a3a3a" stroke-width="0.9"/>
<line x1="414.80" y1="472.25" x2="414.80" y2="475.65" stroke="#3a3a3a" stroke-width="0.9"/>
<text x="414.80" y="487.00" font-size="10" text-anchor="middle">1</text>
<line x1="450.38" y1="472.25" x2="450.38" y2="475.65" stroke="#3a3a3a" stroke-width="0.9"/>
<text x="450.38" y="487.00" font-size="10" text-anchor="middle">2</text>
<line x1="485.96" y1="472.25" x2="485.96" y2="475.65" stroke="#3a3a3a" stroke-width="0.9"/>
<text x="485.96" y="487.00" font-size="10" text-anchor="middle">3</text>
<line x1="521.54" y1="472.25" x2="521.54" y2="475.65" stroke="#3a3a3a" stroke-width="0.9"/>
<text x="521.54" y="487.00" font-size="10" text-anchor="middle">4</text>
<line x1="557.12" y1="472.25" x2="557.12" y2="475.65" stroke="#3a3a3a" stroke-width="0.9"/>
<text x="557.12" y="487.00" font-size="10" text-anchor="middle">5</text>
<line x1="592.70" y1="472.25" x2="592.70" y2="475.65" stroke="#3a3a3a" stroke-width="0.9"/>
<text x="592.70" y="487.00" font-size="10" text-anchor="middle">6</text>
<line x1="628.28" y1="472.25" x2="628.28" y2="475.65" stroke="#3a3a3a" stroke-width="0.9"/>
<text x="628.28" y="487.00" font-size="10" text-anchor="middle">7</text>
<text x="520.95" y="504.30" font-size="10" text-anchor="middle" textLength="62.6">Anchor group</text>
<text x="338.90" y="262.50" font-size="16.4" text-anchor="start" style="stroke-width:0.35px">D</text>
<text x="375.5" y="371.4" font-size="10" text-anchor="middle" transform="rotate(-90 375.5 371.4)" textLength="86">&#916;D (110-40) [ppm]</text>
<text x="681.6" y="371.75" font-size="10" text-anchor="middle" transform="rotate(-90 681.6 371.75)" textLength="85.7">-&#916;F/&#916;D (110-40) o</text>
</svg>
</body></html>
